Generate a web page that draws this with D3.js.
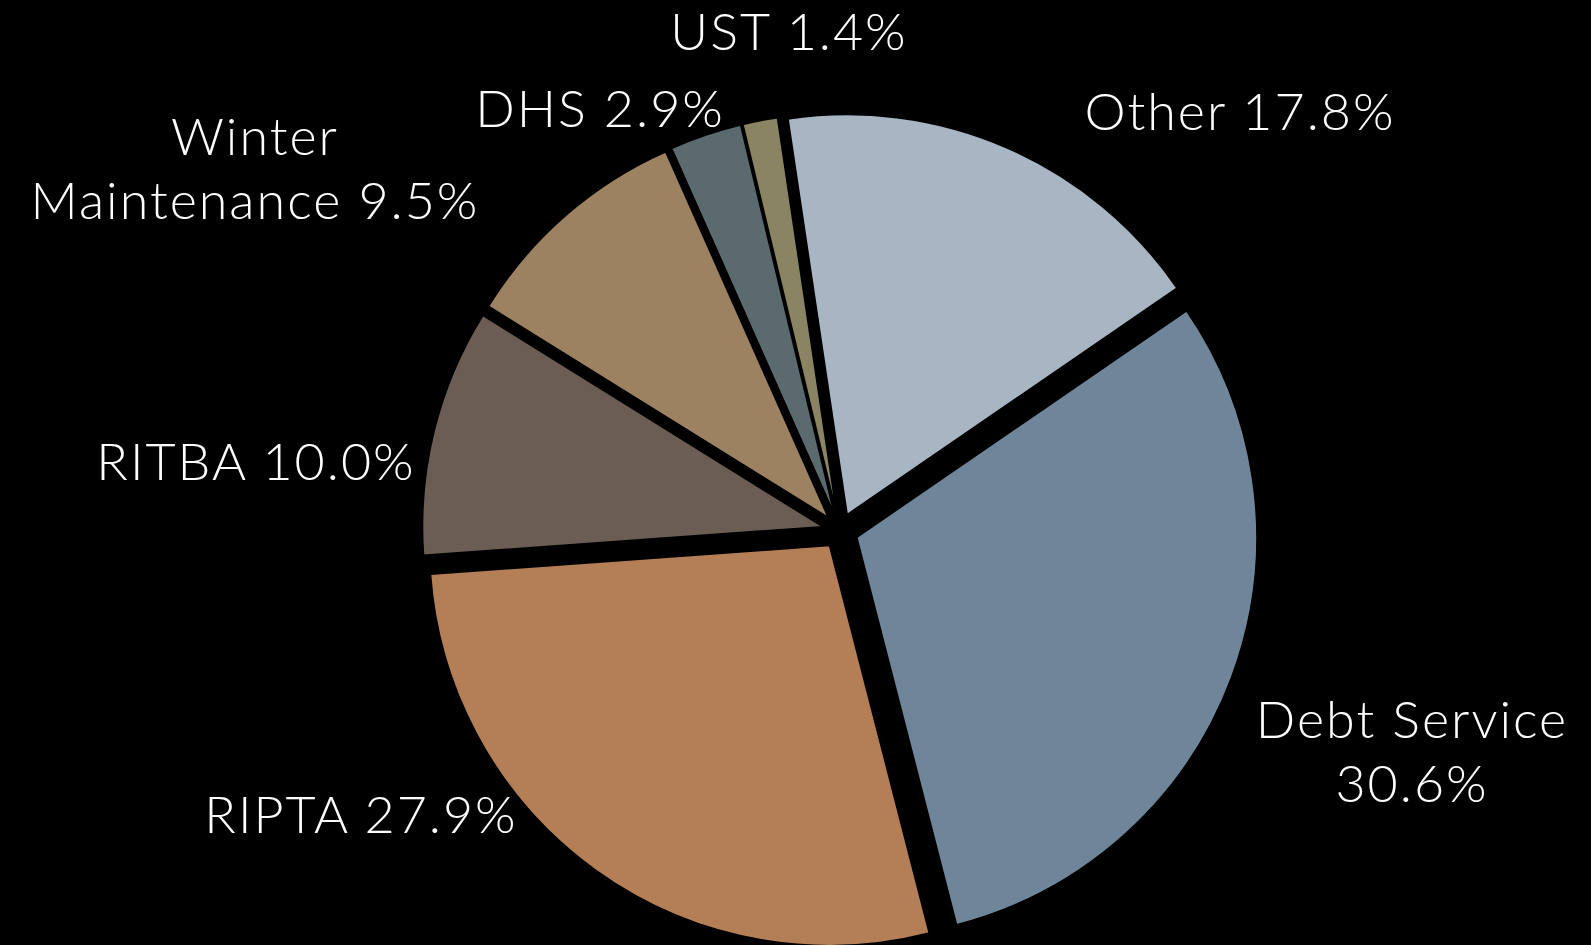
<!DOCTYPE html>
<html>
<head>
<meta charset="utf-8">
<script src="https://cdn.jsdelivr.net/npm/d3@7"></script>
<style>
  html, body { margin: 0; padding: 0; background: #000; }
  svg { display: block; }
  .lbl { fill: #fff; font-family: Lato, "Open Sans", sans-serif; font-size: 52px; font-weight: 300; letter-spacing: 2px; }
</style>
</head>
<body>
<div class="chartContainer"></div>
<script>
// chart data
const categories = ["Other", "Debt Service", "RIPTA", "RITBA", "Winter Maintenance", "DHS", "UST"];
const shares = [17.8, 30.6, 27.9, 10.0, 9.5, 2.9, 1.4];
const colors = ["#a8b5c2", "#6e859a", "#b47e56", "#6b5d53", "#9d8262", "#5a6a6e", "#8a8462"];

// label text lines and where they sit
const labelLines = [
    ["Other 17.8%"],
    ["Debt Service", "30.6%"],
    ["RIPTA 27.9%"],
    ["RITBA 10.0%"],
    ["Winter", "Maintenance 9.5%"],
    ["DHS 2.9%"],
    ["UST 1.4%"]
];
const labelPos = [[1240, 130], [1412, 738], [361, 833], [256, 480], [255, 155], [600, 127], [789, 50]];

const width = 1591, height = 945;
const cx = 840, cy = 531, radius = 400, explode = 18;
const startDeg = -8.5;

const svg = d3.select(".chartContainer")
    .append("svg")
    .attr("width", width)
    .attr("height", height);

svg.append("rect").attr("width", width).attr("height", height).attr("fill", "#000");

const table = categories.map((c, i) => ({ name: c, value: shares[i], color: colors[i], i: i }));

const start = startDeg * Math.PI / 180;
const pie = d3.pie()
    .value(d => d.value)
    .sort(null)
    .startAngle(start)
    .endAngle(start + 2 * Math.PI);

const arc = d3.arc().innerRadius(0).outerRadius(radius);

const g = svg.append("g").attr("transform", `translate(${cx},${cy})`);

g.selectAll("path.slice")
    .data(pie(table))
    .enter()
    .append("path")
    .classed("slice", true)
    .attr("d", arc)
    .attr("fill", d => d.data.color)
    .attr("stroke", "#000")
    .attr("stroke-width", 1.5)
    .attr("transform", d => {
        const mid = (d.startAngle + d.endAngle) / 2;
        return `translate(${explode * Math.sin(mid)},${-explode * Math.cos(mid)})`;
    });

// labels
const labels = svg.append("g").classed("labels", true);
table.forEach((d, i) => {
    const t = labels.append("text")
        .classed("lbl", true)
        .attr("text-anchor", "middle")
        .attr("x", labelPos[i][0])
        .attr("y", labelPos[i][1]);
    labelLines[i].forEach((line, k) => {
        t.append("tspan")
            .attr("x", labelPos[i][0])
            .attr("dy", k === 0 ? 0 : 64)
            .text(line);
    });
});
</script>
</body>
</html>
